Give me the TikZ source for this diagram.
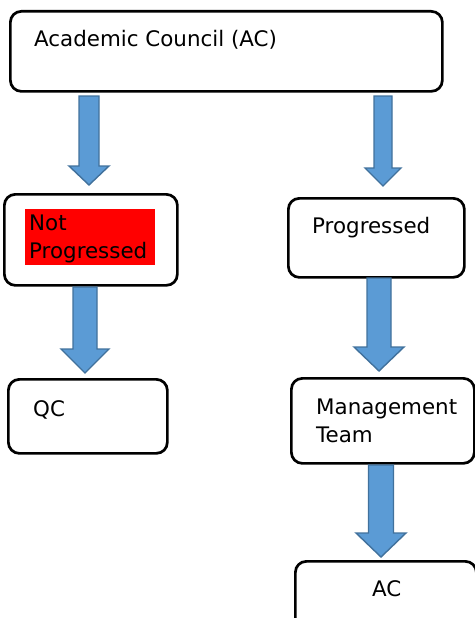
\documentclass[tikz,border=0pt]{standalone}
\usepackage{fontspec}
\setmainfont{DejaVu Sans}
\usetikzlibrary{calc}
\definecolor{prink}{HTML}{000000}
\definecolor{prblue}{HTML}{5B9BD5}
\definecolor{prblueedge}{HTML}{41719C}
\definecolor{prred}{HTML}{FF0000}
\tikzset{
  pr text/.style={font=\fontsize{21.4}{28}\selectfont, text=prink},
  pr box/.style={draw=prink, line width=2.7pt, rounded corners=11pt, fill=white,
    anchor=north west, inner sep=0pt},
  pr label/.style={inner sep=0pt, anchor=base west},
  pr lines/.style={inner sep=0pt, anchor=base west, align=left},
  pr flag/.style={fill=prred, anchor=north west, inner xsep=4pt, inner ysep=6pt,
    text width=122pt, text depth=28pt, align=left},
  pr arrow/.style={fill=prblue, draw=prblueedge, line width=1.4pt, line join=miter}
}
\newcommand{\blockarrow}[5]{%
  \draw[pr arrow] let \p1=(#1), \p2=(#2) in
    (\x1-#3pt,\y1) -- (\x1+#3pt,\y1) -- (\x1+#3pt,\y2+#5pt) -- (\x1+#4pt,\y2+#5pt)
    -- (\x1,\y2) -- (\x1-#4pt,\y2+#5pt) -- (\x1-#3pt,\y2+#5pt) -- cycle;}

\begin{document}
\begin{tikzpicture}[pr text, x=1pt, y=-1pt]
  \useasboundingbox (0,0) rectangle (474,618);
  \node[pr box, minimum width=432pt, minimum height=80pt] (ac) at (9,10) {};
  \node[pr box, minimum width=173pt, minimum height=91pt] (notprog) at (3,193) {};
  \node[pr box, minimum width=176pt, minimum height=79pt] (prog) at (287,197) {};
  \node[pr box, minimum width=159pt, minimum height=74pt] (qc) at (7,378) {};
  \node[pr box, minimum width=183pt, minimum height=85pt] (mgmt) at (290,377) {};
  \node[pr box, minimum width=181pt, minimum height=80pt] (acend) at (294,560) {};

  \node[pr label] (actext) at (34,47) {Academic Council (AC)};
  \node[pr flag] (notprogtext) at (25,209) {Not\\Progressed};
  \node[pr label] (progtext) at (312,233) {Progressed};
  \node[pr label] (qctext) at (33,416) {QC};
  \node[pr lines] (mgmttext) at (316,442) {Management\\Team};
  \node[pr label] (acendtext) at (372,596) {AC};

  \coordinate (a1s) at (89,96);  \coordinate (a1e) at (89,185);
  \coordinate (a2s) at (383,96); \coordinate (a2e) at (383,186);
  \coordinate (a3s) at (85,287); \coordinate (a3e) at (85,373);
  \coordinate (a4s) at (379,278); \coordinate (a4e) at (379,371);
  \coordinate (a5s) at (381,465); \coordinate (a5e) at (381,557);
  \foreach \s/\e/\sw/\hw/\hl in {a1s/a1e/10/20/19,a2s/a2e/9/18/18,a3s/a3e/12/24/24,
    a4s/a4e/12/25/24,a5s/a5e/12.5/25/24} {
    \blockarrow{\s}{\e}{\sw}{\hw}{\hl}
  }
\end{tikzpicture}
\end{document}
